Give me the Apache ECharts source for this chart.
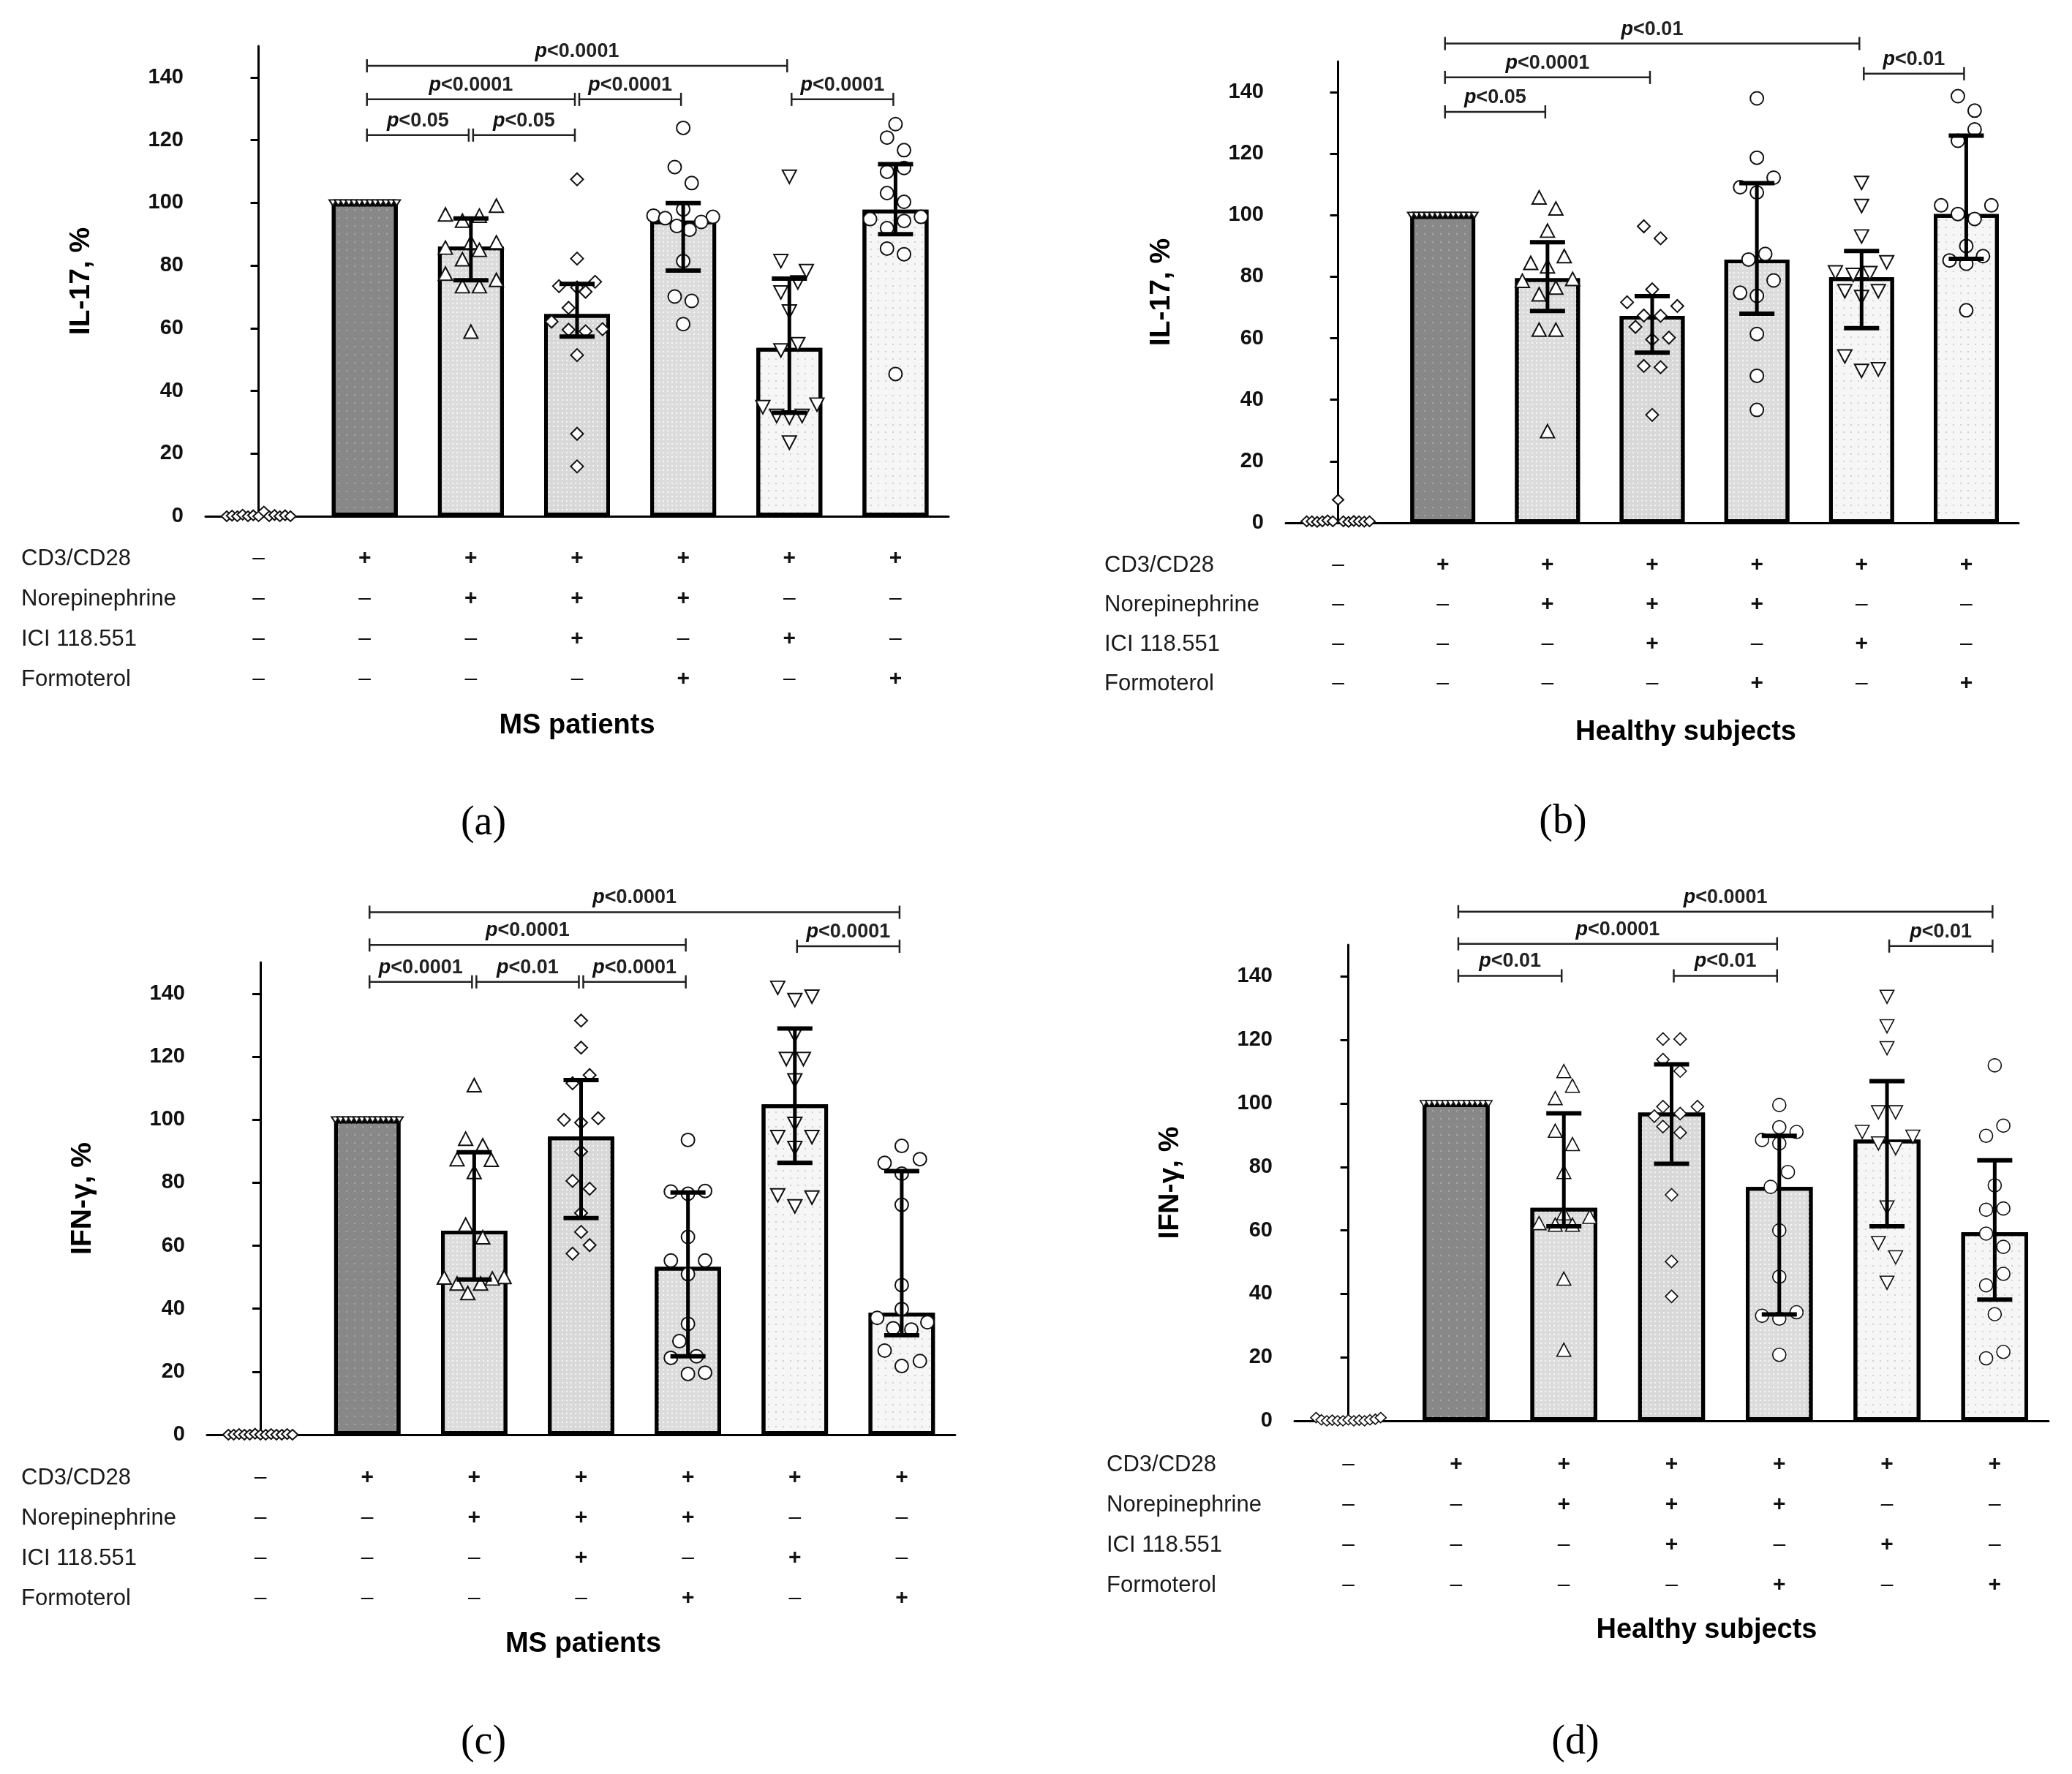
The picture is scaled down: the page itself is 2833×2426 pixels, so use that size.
<!DOCTYPE html>
<html>
<head>
<meta charset="utf-8">
<script src="https://cdn.jsdelivr.net/npm/echarts@6/dist/echarts.min.js"></script>
<style>
  html, body { margin: 0; padding: 0; background: #fff; }
  #chart { width: 2833px; height: 2426px; }
</style>
</head>
<body>
<div id="chart"></div>
<script>
// treatment groups (x categories) and the +/- table under each panel
const categories = ['ctrl', 'cd3', 'ne', 'ne+ici', 'ne+form', 'ici', 'form'];
const rowNames = ['CD3/CD28', 'Norepinephrine', 'ICI 118.551', 'Formoterol'];
const signRows = [
  ['–', '+', '+', '+', '+', '+', '+'],
  ['–', '–', '+', '+', '+', '–', '–'],
  ['–', '–', '–', '+', '–', '+', '–'],
  ['–', '–', '–', '–', '+', '–', '+']
];
const yTicks = [0, 20, 40, 60, 80, 100, 120, 140];

// (a) IL-17, MS patients
const meanA = [0, 100, 86, 64.5, 94.3, 53.7, 97.8];
const lowA  = [null, null, 75.3, 57.3, 78.4, 33.0, 90.0];
const highA = [null, null, 95.0, 74.1, 99.9, 75.8, 112.3];
const pointsA = [
  [[-0.3,0],[-0.25,0.2],[-0.2,0],[-0.15,0.5],[-0.1,0],[-0.05,0.3],[0,0],[0.05,1.5],[0.1,0],[0.15,0.4],[0.2,0],[0.25,0.3],[0.3,0]],
  [[-0.3,100],[-0.25,100],[-0.2,100],[-0.15,100],[-0.1,100],[-0.05,100],[0,100],[0.05,100],[0.1,100],[0.15,100],[0.2,100],[0.25,100],[0.3,100]],
  [[-0.24,96.3],[0.24,99.1],[0.08,95.9],[-0.08,94.3],[0,87.4],[0.24,87.4],[-0.24,85.7],[0.08,85.0],[-0.08,82.0],[-0.24,77.4],[0.24,75.4],[-0.08,73.4],[0.08,73.4],[0,58.9]],
  [[0,107.5],[0,82.2],[-0.17,73.4],[0.17,74.8],[0,73.0],[0.08,71.6],[-0.08,66.5],[-0.24,62.1],[-0.08,59.5],[0.08,59.0],[0.24,59.7],[0,51.4],[0,26.3],[0,15.9]],
  [[0,123.9],[-0.08,111.4],[0.08,106.3],[0,97.9],[-0.28,95.9],[-0.17,95.1],[0.28,95.5],[0.17,93.9],[-0.06,92.6],[0.06,91.4],[0,81.4],[-0.08,70.1],[0.08,68.7],[0,61.3]],
  [[0,108.3],[-0.08,81.4],[0.16,78.2],[0.08,74.6],[-0.08,71.4],[0,65.3],[-0.08,52.9],[0.08,54.9],[-0.25,34.8],[0.26,35.6],[-0.12,32.0],[0,31.5],[0.12,32.0],[0,23.5]],
  [[0,125.1],[-0.08,120.8],[0.08,116.8],[-0.08,109.9],[0.08,111.1],[-0.08,103.1],[0.08,100.3],[-0.24,94.8],[0.08,94.2],[0.24,95.5],[-0.08,91.9],[-0.08,85.4],[0.08,83.6],[0,45.4]]
];
const bracketsA = [[1,5,143.7,'0.0001'],[1,3,133,'0.0001'],[3,4,133,'0.0001'],[5,6,133,'0.0001'],[1,2,121.6,'0.05'],[2,3,121.6,'0.05']];

// (b) IL-17, healthy subjects
const meanB = [0, 100, 79.5, 67.3, 85.6, 79.8, 100.4];
const lowB  = [null, null, 68.9, 55.3, 68.0, 63.3, 85.8];
const highB = [null, null, 91.2, 73.7, 110.4, 88.4, 125.9];
const pointsB = [
  [[-0.3,0.5],[-0.25,0.5],[-0.2,0.3],[-0.15,0.5],[-0.1,0.8],[-0.05,0.5],[0,7.5],[0.05,0.5],[0.1,0.3],[0.15,0.6],[0.2,0.5],[0.25,0.4],[0.3,0.5]],
  [[-0.3,100],[-0.25,100],[-0.2,100],[-0.15,100],[-0.1,100],[-0.05,100],[0,100],[0.05,100],[0.1,100],[0.15,100],[0.2,100],[0.25,100],[0.3,100]],
  [[-0.08,105.8],[0.08,102.2],[0,95.0],[-0.16,84.5],[0.16,86.7],[0,83.4],[-0.24,78.7],[0.24,79.3],[0.08,76.5],[-0.08,74.3],[-0.08,62.8],[0.08,62.8],[0,29.8]],
  [[-0.08,96.4],[0.08,92.5],[0,75.9],[-0.24,71.7],[0.24,70.5],[-0.08,67.4],[0.08,67.3],[-0.16,63.7],[0.16,60.2],[0,59.6],[-0.08,51.0],[0.08,50.6],[0,35.1]],
  [[0,138.0],[0,118.7],[0.16,112.2],[-0.16,109.1],[0,107.4],[-0.08,85.6],[0.08,87.4],[0.16,78.8],[-0.16,74.8],[0,73.8],[0,61.4],[0,47.8],[0,36.7]],
  [[0,110.5],[0,103.0],[0,93.1],[0.24,84.7],[-0.25,81.4],[-0.08,80.6],[0.08,81.2],[-0.16,75.3],[0.16,75.3],[0,73.4],[-0.16,54.1],[0,49.4],[0.16,49.9]],
  [[-0.08,138.7],[0.08,134.0],[0.08,127.9],[-0.08,124.2],[-0.24,103.2],[0.24,103.2],[-0.08,100.4],[0.08,98.8],[0,90.0],[-0.16,85.3],[0,84.2],[0.16,86.7],[0,69.1]]
];
const bracketsB = [[1,5,155.8,'0.01'],[1,3,144.8,'0.0001'],[5,6,146,'0.01'],[1,2,133.6,'0.05']];

// (c) IFN-gamma, MS patients
const meanC = [0, 100, 64.8, 94.7, 53.3, 104.9, 38.7];
const lowC  = [null, null, 49.3, 68.8, 24.9, 86.3, 31.6];
const highC = [null, null, 89.7, 112.6, 76.9, 129.0, 83.7];
const pointsC = [
  [[-0.3,0],[-0.25,0],[-0.2,0.2],[-0.15,0],[-0.1,0],[-0.05,0.3],[0,0],[0.05,0],[0.1,0.2],[0.15,0],[0.2,0],[0.25,0.2],[0.3,0]],
  [[-0.3,100],[-0.25,100],[-0.2,100],[-0.15,100],[-0.1,100],[-0.05,100],[0,100],[0.05,100],[0.1,100],[0.15,100],[0.2,100],[0.25,100],[0.3,100]],
  [[0,111.0],[-0.08,94.0],[0.08,91.9],[-0.16,87.5],[0.16,87.3],[0,83.4],[-0.08,66.7],[0.08,62.7],[-0.28,49.9],[0.28,50.1],[0.17,49.6],[-0.16,48.0],[0.06,48.0],[-0.06,45.0]],
  [[0,131.5],[0,122.9],[0.08,114.2],[-0.08,111.6],[-0.16,100.0],[0.16,100.5],[0,99.1],[0,89.9],[-0.08,80.6],[0.08,78.1],[0,70.4],[0,64.4],[0.08,60.2],[-0.08,57.5]],
  [[0,93.6],[-0.16,77.2],[0.16,77.4],[0,76.5],[0,62.8],[-0.16,55.3],[0.16,55.3],[0,51.0],[0,35.2],[-0.08,29.7],[-0.16,24.4],[0.08,24.9],[0,19.3],[0.16,19.7]],
  [[-0.16,141.9],[0,138.0],[0.16,139.1],[0,126.9],[-0.08,119.3],[0.08,119.3],[0,112.5],[0,98.7],[-0.16,94.5],[0.16,94.5],[0,91.0],[-0.16,76.0],[0.16,75.3],[0,72.5]],
  [[0,91.7],[-0.16,86.3],[0.17,87.5],[0,82.9],[0,73.0],[0,47.5],[0,39.9],[-0.23,37.1],[0.24,35.7],[-0.08,33.8],[0.09,33.4],[-0.16,26.7],[0.17,23.4],[0,21.8]]
];
const bracketsC = [[1,6,165.9,'0.0001'],[1,4,155.5,'0.0001'],[5,6,155.1,'0.0001'],[1,2,143.8,'0.0001'],[2,3,143.8,'0.01'],[3,4,143.8,'0.0001']];

// (d) IFN-gamma, healthy subjects
const meanD = [0, 100, 67.1, 97.1, 73.7, 88.6, 59.4];
const lowD  = [null, null, 61.3, 81.0, 33.5, 61.3, 38.2];
const highD = [null, null, 96.9, 112.3, 89.8, 107.0, 82.1];
const pointsD = [
  [[-0.3,1],[-0.25,0.3],[-0.2,0],[-0.15,0.2],[-0.1,0],[-0.05,0],[0,0.3],[0.05,0],[0.1,0.2],[0.15,0],[0.2,0.3],[0.25,0.5],[0.3,1]],
  [[-0.3,100],[-0.25,100],[-0.2,100],[-0.15,100],[-0.1,100],[-0.05,100],[0,100],[0.05,100],[0.1,100],[0.15,100],[0.2,100],[0.25,100],[0.3,100]],
  [[0,110.2],[0.08,105.6],[-0.08,101.7],[-0.08,91.4],[0.08,87.2],[0,78.4],[0.24,64.3],[-0.23,62.3],[-0.08,61.8],[0.08,61.8],[0,65.4],[0,44.8],[0,22.4]],
  [[-0.08,120.3],[0.08,120.3],[-0.08,113.8],[0.08,110.2],[-0.08,99.0],[0.24,99.0],[-0.16,96.0],[0.08,96.8],[-0.08,92.7],[0.08,90.8],[0,71.2],[0,50.2],[0,39.2]],
  [[0,99.5],[0,92.5],[0.16,91.0],[-0.16,88.5],[0,87.4],[0.08,78.4],[-0.08,73.7],[0,60.0],[0,45.4],[-0.16,33.1],[0.16,34.2],[0,32.2],[0,20.8]],
  [[0,133.6],[0,124.3],[0,117.4],[-0.08,97.2],[0.08,97.2],[-0.23,91.0],[0.24,89.5],[-0.08,87.4],[0.08,85.9],[0,67.2],[-0.08,56.0],[0.08,51.5],[0,43.5]],
  [[0,112.0],[0.08,93.0],[-0.08,89.8],[0,74.2],[-0.08,66.5],[0.08,66.9],[-0.08,59.0],[0.08,54.8],[0.08,46.3],[-0.08,42.7],[0,33.6],[0.08,21.7],[-0.08,19.7]]
];
const bracketsD = [[1,6,160.4,'0.0001'],[1,4,150.3,'0.0001'],[5,6,149.6,'0.01'],[1,2,140.2,'0.01'],[3,4,140.2,'0.01']];

// ---- styling ----
const SANS = '"Liberation Sans", Arial, sans-serif';
const SERIF = '"Liberation Serif", "Times New Roman", serif';

const barStyles = [
  { color: 'rgba(0,0,0,0)', borderWidth: 0 },
  { color: '#888888', decal: { symbol: 'rect', symbolSize: 1, color: 'rgba(200,200,200,0.5)', dashArrayX: [2, 9], dashArrayY: [2, 9] } },
  { color: '#dcdcdc', decal: { symbol: 'rect', symbolSize: 1, color: 'rgba(255,255,255,0.75)', dashArrayX: [2, 4], dashArrayY: [2, 4] } },
  { color: '#d8d8d8', decal: { symbol: 'rect', symbolSize: 1, color: 'rgba(255,255,255,0.75)', dashArrayX: [2, 4], dashArrayY: [2, 4] } },
  { color: '#dcdcdc', decal: { symbol: 'rect', symbolSize: 1, color: 'rgba(255,255,255,0.75)', dashArrayX: [2, 4], dashArrayY: [2, 4] } },
  { color: '#f6f6f6', decal: { symbol: 'rect', symbolSize: 1, color: 'rgba(140,140,140,0.35)', dashArrayX: [2, 8], dashArrayY: [2, 8] } },
  { color: '#f6f6f6', decal: { symbol: 'rect', symbolSize: 1, color: 'rgba(140,140,140,0.35)', dashArrayX: [2, 8], dashArrayY: [2, 8] } }
];
const symbols    = ['diamond', 'triangle', 'triangle', 'diamond', 'circle', 'triangle', 'circle'];
const symbolRot  = [0, 180, 0, 0, 0, 180, 0];
const symbolSize = [[15, 14], [10, 8], [19, 18], [17, 17], [18, 18], [19, 18], [18, 18]];

const panels = [
  { letter: '(a)', grid: { left: 281, top: 63, width: 1016, height: 643 }, yName: 'IL-17, %', xName: 'MS patients', xShift: 0,
    mean: meanA, low: lowA, high: highA, points: pointsA, brackets: bracketsA, rowX: 29, rowTop: 58, rowStep: 55, letterPos: [661, 1126], ptWidth: 2 },
  { letter: '(b)', grid: { left: 1758, top: 84, width: 1002, height: 631 }, yName: 'IL-17, %', xName: 'Healthy subjects', xShift: 46,
    mean: meanB, low: lowB, high: highB, points: pointsB, brackets: bracketsB, rowX: 1510, rowTop: 58, rowStep: 54, letterPos: [2137, 1124], ptWidth: 2 },
  { letter: '(c)', grid: { left: 283, top: 1316, width: 1023, height: 646 }, yName: 'IFN-γ, %', xName: 'MS patients', xShift: 3,
    mean: meanC, low: lowC, high: highC, points: pointsC, brackets: bracketsC, rowX: 29, rowTop: 59, rowStep: 55, letterPos: [661, 2383], ptWidth: 2 },
  { letter: '(d)', grid: { left: 1770, top: 1292, width: 1031, height: 651 }, yName: 'IFN-γ, %', xName: 'Healthy subjects', xShift: 48,
    mean: meanD, low: lowD, high: highD, points: pointsD, brackets: bracketsD, rowX: 1513, rowTop: 60, rowStep: 55, letterPos: [2154, 2383], ptWidth: 1.6 }
];

const grids = [], xAxes = [], yAxes = [], series = [], graphics = [];

panels.forEach((p, k) => {
  grids.push(p.grid);

  // visible category axis carrying the +/- table as multi-line labels
  xAxes.push({
    type: 'category', gridIndex: k, data: categories,
    axisLine: { lineStyle: { color: '#000', width: 3 } },
    axisTick: { alignWithLabel: true, length: 12, lineStyle: { color: '#000', width: 3 } },
    axisLabel: {
      interval: 0, margin: p.rowTop - p.rowStep / 2, color: '#111',
      formatter: (v, i) => signRows.map(r => r[i] === '+' ? '{p|+}' : '{m|–}').join('\n'),
      rich: {
        p: { fontSize: 30, fontFamily: SANS, fontWeight: 'bold', lineHeight: p.rowStep, color: '#111' },
        m: { fontSize: 30, fontFamily: SANS, lineHeight: p.rowStep, color: '#111' }
      }
    },
    name: p.xName, nameLocation: 'middle', nameGap: 268,
    nameTextStyle: { fontSize: 38, fontWeight: 'bold', fontFamily: SANS, color: '#000', padding: [0, 0, 0, p.xShift * 2] }
  });
  // hidden numeric axis so points and brackets can sit between categories
  xAxes.push({ type: 'value', gridIndex: k, min: -0.5, max: 6.5, show: false });

  yAxes.push({
    type: 'value', gridIndex: k, min: 0, max: 150,
    axisLine: { show: true, lineStyle: { color: '#000', width: 3 } },
    axisTick: { show: true, length: 11, customValues: yTicks, lineStyle: { color: '#000', width: 3 } },
    axisLabel: { customValues: yTicks, fontSize: 29, fontWeight: 'bold', fontFamily: SANS, color: '#111', margin: 30 },
    splitLine: { show: false },
    name: p.yName, nameLocation: 'middle', nameGap: 150,
    nameTextStyle: { fontSize: 39, fontWeight: 'bold', fontFamily: SANS, color: '#000' }
  });

  const catAx = 2 * k, valAx = 2 * k + 1;

  series.push({
    type: 'bar', xAxisIndex: catAx, yAxisIndex: k, barWidth: '62%', z: 2, silent: true,
    itemStyle: { borderColor: '#000', borderWidth: 5 },
    data: p.mean.map((m, i) => ({ value: m, itemStyle: barStyles[i] }))
  });

  const pts = [];
  p.points.forEach((grp, i) => grp.forEach(([dx, v]) => {
    pts.push({ value: [i + dx, v], symbol: symbols[i], symbolRotate: symbolRot[i], symbolSize: symbolSize[i] });
  }));
  series.push({
    type: 'scatter', xAxisIndex: valAx, yAxisIndex: k, z: 3, silent: true,
    itemStyle: { color: '#fff', borderColor: '#111', borderWidth: p.ptWidth, opacity: 1 },
    data: pts
  });

  const errData = [];
  p.mean.forEach((m, i) => { if (p.low[i] != null) errData.push([i, p.low[i], p.high[i]]); });
  series.push({
    type: 'custom', xAxisIndex: catAx, yAxisIndex: k, z: 4, silent: true,
    encode: { x: 0, y: [1, 2] },
    data: errData,
    renderItem: (params, api) => {
      const top = api.coord([api.value(0), api.value(2)]);
      const bot = api.coord([api.value(0), api.value(1)]);
      const w = 24;
      const st = { stroke: '#000', lineWidth: 6 };
      return { type: 'group', children: [
        { type: 'line', shape: { x1: top[0], y1: top[1], x2: bot[0], y2: bot[1] }, style: { stroke: '#000', lineWidth: 5 } },
        { type: 'line', shape: { x1: top[0] - w, y1: top[1], x2: top[0] + w, y2: top[1] }, style: st },
        { type: 'line', shape: { x1: bot[0] - w, y1: bot[1], x2: bot[0] + w, y2: bot[1] }, style: st }
      ] };
    }
  });

  series.push({
    type: 'custom', xAxisIndex: valAx, yAxisIndex: k, z: 5, silent: true, clip: false,
    encode: { x: [0, 1], y: 2 },
    data: p.brackets.map(b => [b[0], b[1], b[2]]),
    renderItem: (params, api) => {
      const a = api.coord([api.value(0), api.value(2)]);
      const b = api.coord([api.value(1), api.value(2)]);
      const x1 = a[0] + 3, x2 = b[0] - 3, y = a[1];
      const st = { stroke: '#222', lineWidth: 2.5 };
      return { type: 'group', children: [
        { type: 'line', shape: { x1: x1, y1: y, x2: x2, y2: y }, style: st },
        { type: 'line', shape: { x1: x1, y1: y - 9, x2: x1, y2: y + 9 }, style: st },
        { type: 'line', shape: { x1: x2, y1: y - 9, x2: x2, y2: y + 9 }, style: st },
        { type: 'text', x: (x1 + x2) / 2, y: y - 6, style: {
            text: '{i|p}<' + p.brackets[params.dataIndex][3],
            rich: { i: { fontStyle: 'italic', fontWeight: 'bold', fontSize: 27, fontFamily: SANS, fill: '#111' } },
            fontSize: 27, fontWeight: 'bold', fontFamily: SANS, fill: '#222', align: 'center', verticalAlign: 'bottom'
        } }
      ] };
    }
  });

  // row names of the treatment table, and the panel letter
  const axisY = p.grid.top + p.grid.height;
  rowNames.forEach((name, r) => {
    graphics.push({ type: 'text', x: p.rowX, y: axisY + p.rowTop + r * p.rowStep, silent: true,
      style: { text: name, font: '31px ' + SANS, fill: '#1a1a1a', verticalAlign: 'middle', align: 'left' } });
  });
  graphics.push({ type: 'text', x: p.letterPos[0], y: p.letterPos[1], silent: true,
    style: { text: p.letter, font: '56px ' + SERIF, fill: '#000', align: 'center', verticalAlign: 'middle' } });
});

const chart = echarts.init(document.getElementById('chart'), null, { renderer: 'canvas' });
chart.setOption({
  animation: false,
  backgroundColor: '#fff',
  grid: grids,
  xAxis: xAxes,
  yAxis: yAxes,
  series: series,
  graphic: { elements: graphics }
});
</script>
</body>
</html>
